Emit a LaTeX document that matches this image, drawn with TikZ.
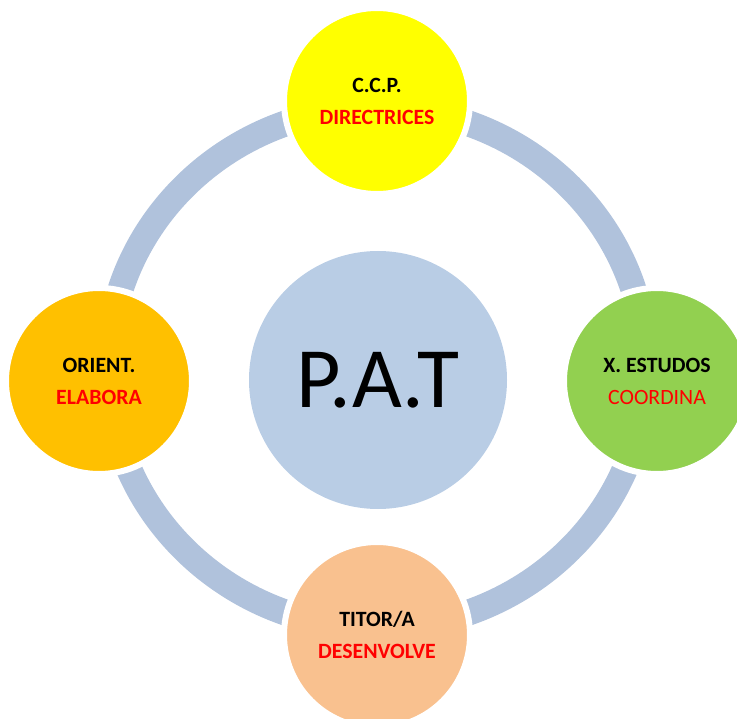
\documentclass[tikz,border=0pt]{standalone}
\usepackage{fontspec}
\setmainfont{Carlito}
\definecolor{ringc}{HTML}{B0C2DC}
\definecolor{centerc}{HTML}{B9CDE5}
\definecolor{cyellow}{HTML}{FFFF00}
\definecolor{corange}{HTML}{FFC000}
\definecolor{cgreen}{HTML}{92D050}
\definecolor{cpeach}{HTML}{F9C18F}
\definecolor{cred}{HTML}{FF0000}
\begin{document}
\begin{tikzpicture}[x=1pt,y=-1pt,
  bubble/.style={circle, minimum size=186pt, inner sep=0pt, draw=white, line width=6pt,
    align=center, font=\fontsize{21.8}{32}\selectfont\bfseries},
  hub/.style={circle, minimum size=258pt, inner sep=0pt, fill=centerc,
    font=\fontsize{86}{86}\selectfont}]
\useasboundingbox (0,0) rectangle (737,719);
\clip (0,0) rectangle (737,719);
\draw[ringc, line width=26pt] (377,368) ellipse [x radius=269, y radius=260];
\node[hub] (pat) at (378,380) {P.A.T};
\node[bubble, fill=cyellow] (ccp) at (377,101) {C.C.P.\\\textcolor{cred}{DIRECTRICES}};
\node[bubble, fill=corange] (orient) at (99,381) {ORIENT.\\\textcolor{cred}{ELABORA}};
\node[bubble, fill=cgreen] (xest) at (657,381) {X. ESTUDOS\\\textcolor{cred}{\mdseries COORDINA}};
\node[bubble, fill=cpeach] (titor) at (377,635) {TITOR/A\\\textcolor{cred}{DESENVOLVE}};
\end{tikzpicture}
\end{document}
